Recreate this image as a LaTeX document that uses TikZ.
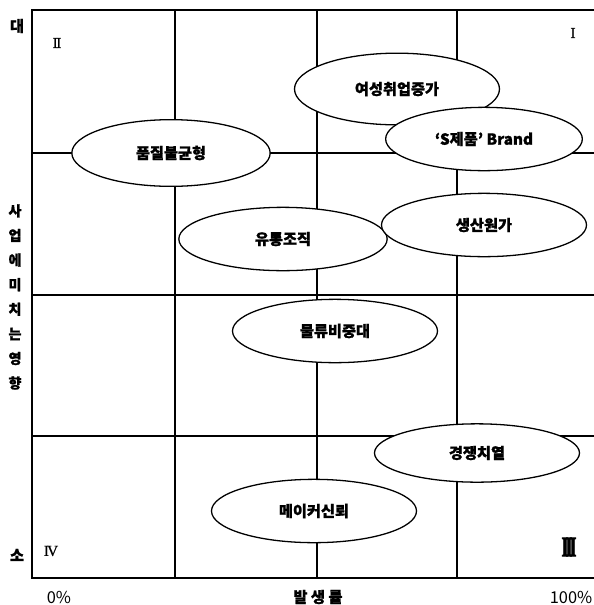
\documentclass[tikz,border=0pt]{standalone}
\usepackage{fontspec}
\newfontfamily\kor{Noto Sans CJK KR}
\newfontfamily\korb{Noto Sans CJK KR}[BoldFeatures={FakeBold=1.2}]
\newfontfamily\romn{Liberation Serif}[FakeBold=0.6]
\newfontfamily\romnb{Liberation Serif}[BoldFeatures={FakeBold=3}]
\usetikzlibrary{shapes.geometric}

\begin{document}
\begin{tikzpicture}[x=0.03cm, y=-0.03cm,
grid/.style={line width=1.1pt},
bubble/.style={ellipse, draw, fill=white, line width=1.1pt, inner sep=0pt, minimum width=6.15cm, minimum height=1.9cm, font=\korb\bfseries\fontsize{13}{15}\selectfont},
axis/.style={font=\korb\bfseries\fontsize{13}{15}\selectfont},
percent/.style={font=\kor\fontsize{14}{16}\selectfont},
quad/.style={font=\romn\fontsize{13}{15}\selectfont},
]
\useasboundingbox (0,0) rectangle (594,605);

% Grid
\draw [grid] (594,10) -- (32,10) -- (32,578) -- (594,578);
\draw [grid] (32,153) -- (594,153);
\draw [grid] (32,295) -- (594,295);
\draw [grid] (32,436) -- (594,436);
\draw [grid] (175,10) -- (175,578);
\draw [grid] (317,10) -- (317,578);
\draw [grid] (457,10) -- (457,578);

%Nodes
\node [bubble, minimum width=5.95cm, minimum height=2cm] (quality) at (171,153) {품질불균형};
\node [bubble, minimum height=2.15cm] (women) at (397,89) {여성취업증가};
\node [bubble, minimum width=5.9cm] (brand) at (484,139) {‘S제품’ Brand};
\node [bubble, minimum width=6.25cm] (channel) at (283,239) {유통조직};
\node [bubble] (cost) at (484,225) {생산원가};
\node [bubble] (logistics) at (335,331) {물류비중대};
\node [bubble, minimum height=1.75cm] (compete) at (477,453) {경쟁치열};
\node [bubble] (maker) at (314,511) {메이커신뢰};

% Labels
\node [axis] (big) at (17,26) {대};
\node [axis] (small) at (17,555) {소};
\node [axis, align=center, font=\korb\bfseries\fontsize{12}{21}\selectfont] (effect) at (15,297) {사\\업\\에\\미\\치\\는\\영\\향};
\node [percent] (zero) at (59,597) {0\%};
\node [axis] (rate) at (318,597) {발 생 률};
\node [percent] (full) at (571,597) {100\%};

\node [quad] (q2) at (57,43) {I\kern-0.1em I};
\node [quad] (q1) at (573,33) {I};
\node [quad] (q4) at (51,551) {I\kern-0.12em V};
\node [quad] (q3) at (569,547) {\scalebox{0.6}[1]{\romnb\bfseries\fontsize{24}{26}\selectfont I\kern-0.15em I\kern-0.15em I}};
\end{tikzpicture}
\end{document}
